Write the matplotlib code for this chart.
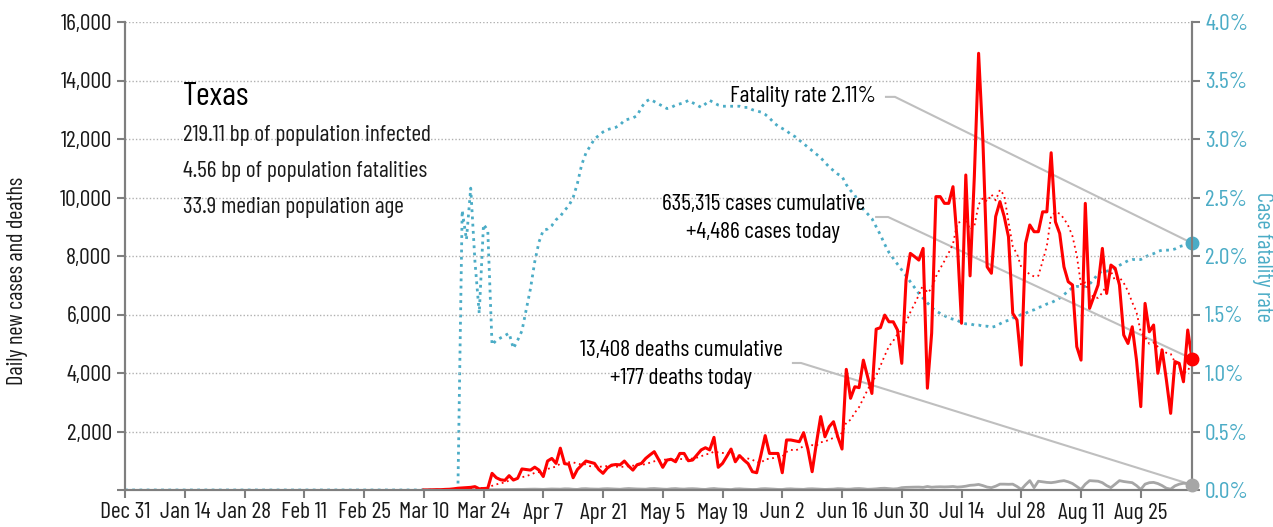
import numpy as np
import pandas as pd
import matplotlib
matplotlib.use("Agg")
import matplotlib.pyplot as plt

plt.rcParams['font.family'] = ['Barlow Condensed', 'DejaVu Sans']

# days counted from Dec 31, 2019
last_day = 250
tick_days = list(range(0, 239, 14))
tick_labels = ["Dec 31", "Jan 14", "Jan 28", "Feb 11", "Feb 25", "Mar 10",
               "Mar 24", "Apr 7", "Apr 21", "May 5", "May 19", "Jun 2",
               "Jun 16", "Jun 30", "Jul 14", "Jul 28", "Aug 11", "Aug 25"]

# daily new cases, Mar 10 .. Sep 6
cases = [0, 0, 5, 10, 10, 20, 25, 40, 60, 70,
         80, 90, 115, 40, 50, 60, 570, 420, 350, 330,
         490, 340, 400, 720, 700, 680, 780, 680, 460, 990,
         1080, 910, 1430, 900, 880, 420, 700, 850, 990, 950,
         910, 700, 570, 750, 850, 870, 860, 990, 820, 680,
         865, 910, 1080, 1200, 1310, 1050, 775, 1025, 1050, 965,
         1250, 1250, 1000, 1025, 1200, 1370, 1445, 1370, 1800, 775,
         910, 1150, 1400, 965, 1175, 1025, 900, 625, 590, 1200,
         1860, 1250, 1250, 1250, 590, 1710, 1710, 1680, 1650, 1960,
         1400, 625, 1600, 2510, 1820, 2165, 2335, 1820, 1400, 4125,
         3135, 3530, 3500, 4440, 3875, 3300, 5500, 5550, 5980, 5750,
         5750, 5470, 4330, 7180, 8090, 7980, 7860, 8260, 3480, 5360,
         10030, 10030, 9800, 9800, 10370, 8500, 5700, 10770, 7320, 10710,
         14930, 11970, 7630, 7410, 9350, 9860, 9350, 8660, 6040, 5810,
         4270, 8430, 9060, 8830, 8830, 9510, 9510, 11530, 9170, 8770,
         7630, 7120, 7010, 4900, 4440, 9800, 6210, 6610, 7010, 8260,
         6720, 7690, 7580, 7010, 5300, 5010, 5580, 4440, 2850, 6380,
         5410, 5640, 3990, 4790, 3760, 2620, 4390, 4330, 3700, 5470,
         4486]

# daily deaths, Mar 10 .. Sep 6
deaths = [0, 0, 0, 0, 0, 1, 1, 2, 2, 3,
          3, 4, 5, 6, 8, 8, 10, 12, 14, 15,
          18, 20, 22, 20, 25, 28, 30, 25, 22, 30,
          35, 30, 28, 40, 38, 25, 20, 42, 45, 35,
          30, 28, 40, 45, 38, 32, 25, 40, 50, 42,
          35, 30, 28, 45, 50, 40, 30, 25, 42, 48,
          35, 30, 42, 45, 38, 25, 20, 40, 50, 35,
          30, 22, 15, 35, 40, 30, 25, 18, 20, 40,
          45, 38, 30, 20, 18, 35, 40, 30, 25, 22,
          38, 42, 35, 28, 20, 25, 30, 45, 40, 28,
          30, 45, 50, 40, 25, 30, 40, 55, 60, 48,
          35, 45, 80, 90, 95, 98, 100, 90, 120, 95,
          105, 110, 105, 110, 120, 100, 110, 130, 160, 170,
          190, 150, 100, 80, 130, 200, 200, 195, 200, 120,
          20, 180, 320, 80, 300, 280, 260, 250, 270, 300,
          320, 280, 220, 120, 20, 200, 320, 310, 300, 250,
          150, 80, 200, 320, 290, 270, 250, 150, 20, 200,
          250, 260, 220, 150, 60, 30, 140, 200, 230, 220,
          177]

# case fatality rate (%), Mar 18 .. Sep 6
rate = [0.0, 2.39, 2.14, 2.58, 1.95, 1.51, 2.27, 2.22, 1.24, 1.28,
        1.30, 1.32, 1.34, 1.21, 1.28, 1.36, 1.54, 1.72, 1.95, 2.12,
        2.22, 2.23, 2.26, 2.31, 2.34, 2.39, 2.43, 2.50, 2.62, 2.78,
        2.88, 2.94, 3.00, 3.03, 3.06, 3.08, 3.09, 3.10, 3.12, 3.16,
        3.17, 3.18, 3.20, 3.27, 3.32, 3.34, 3.32, 3.30, 3.28, 3.26,
        3.27, 3.29, 3.30, 3.31, 3.33, 3.31, 3.29, 3.27, 3.30, 3.33,
        3.31, 3.29, 3.28, 3.28, 3.28, 3.28, 3.28, 3.27, 3.27, 3.25,
        3.24, 3.23, 3.21, 3.18, 3.14, 3.11, 3.09, 3.07, 3.04, 3.02,
        2.99, 2.96, 2.93, 2.90, 2.87, 2.84, 2.80, 2.76, 2.73, 2.70,
        2.68, 2.61, 2.56, 2.52, 2.45, 2.40, 2.36, 2.32, 2.25, 2.18,
        2.10, 2.03, 1.98, 1.93, 1.88, 1.83, 1.78, 1.73, 1.68, 1.64,
        1.60, 1.56, 1.53, 1.51, 1.49, 1.47, 1.46, 1.45, 1.43, 1.42,
        1.42, 1.41, 1.41, 1.40, 1.40, 1.39, 1.40, 1.42, 1.44, 1.45,
        1.47, 1.48, 1.50, 1.51, 1.53, 1.54, 1.56, 1.57, 1.59, 1.60,
        1.62, 1.64, 1.67, 1.70, 1.73, 1.74, 1.74, 1.74, 1.76, 1.80,
        1.85, 1.87, 1.87, 1.88, 1.90, 1.92, 1.94, 1.96, 1.97, 1.97,
        1.97, 1.99, 2.01, 2.02, 2.04, 2.05, 2.05, 2.05, 2.06, 2.08,
        2.09, 2.10, 2.11]

state = "Texas"
info_lines = ["219.11 bp of population infected",
              "4.56 bp of population fatalities",
              "33.9 median population age"]
total_cases = 635315
total_deaths = 13408

RED = "#ff0000"
TEAL = "#4bacc6"
GREY = "#a6a6a6"
LINEG = "#bfbfbf"
SPINE = "#7f7f7f"
TXT = "#1a1a1a"
FS = 17

days_all = np.arange(last_day + 1)
cases_all = np.zeros(last_day + 1)
cases_all[-len(cases):] = cases
trend = pd.Series(cases_all).rolling(7).mean()
rate_all = np.zeros(last_day + 1)
rate_all[-len(rate):] = rate
d_cases = days_all[-len(cases):]
d_deaths = days_all[-len(deaths):]

fig = plt.figure(figsize=(12.73, 5.27), dpi=100)
ax = fig.add_axes([125 / 1273, 37 / 527, 1067 / 1273, 468 / 527])
ax2 = ax.twinx()
ax.set_zorder(ax2.get_zorder() + 1)
ax.patch.set_visible(False)

# fatality rate on the right axis
ax2.plot(days_all, rate_all, color=TEAL, lw=2, linestyle=(0, (1, 1.6)))
ax2.plot(last_day, rate[-1], 'o', color=TEAL, ms=9, clip_on=False, zorder=5)
ax2.set_ylim(0, 4)
ax2.set_yticks(np.arange(0, 4.01, 0.5))
ax2.set_yticklabels([f"{v:.1f}%" for v in np.arange(0, 4.01, 0.5)])

ax.plot(d_deaths, deaths, color=GREY, lw=2)
ax.plot(days_all, trend, color=RED, lw=1.3, linestyle=(0, (1, 2)))
ax.plot(d_cases, cases, color=RED, lw=2.2)
ax.plot(last_day, cases[-1], 'o', color=RED, ms=9, clip_on=False, zorder=6)
ax.plot(last_day, deaths[-1], 'o', color=GREY, ms=9, clip_on=False, zorder=6)

ax.set_xlim(0, last_day)
ax.set_ylim(0, 16000)
ax.set_yticks(range(0, 16001, 2000))
ax.set_yticklabels([f"{v:,}" if v else "" for v in range(0, 16001, 2000)])
ax.set_xticks(tick_days)
ax.set_xticklabels(tick_labels)
for v in range(2000, 16001, 2000):
    ax.axhline(v, color="#b0b0b0", lw=1, linestyle=(0, (1, 1.5)), zorder=0)

for a in (ax, ax2):
    a.spines['top'].set_visible(False)
    for s in ('left', 'right', 'bottom'):
        a.spines[s].set_color(SPINE)
        a.spines[s].set_linewidth(1.5)
ax.tick_params(axis='both', colors=SPINE, labelcolor=TXT, labelsize=FS,
               length=6, width=1.5)
ax.tick_params(axis='x', pad=3)
ax2.tick_params(axis='y', colors=SPINE, labelcolor=TEAL, labelsize=FS,
                length=6, width=1.5)

fig.text(18 / 1273, 1 - 281 / 527, "Daily new cases and deaths", rotation=90,
         ha='center', va='center', fontsize=FS - 1, color=TXT)
fig.text(1263 / 1273, 1 - 257 / 527, "Case fatality rate", rotation=-90,
         ha='center', va='center', fontsize=FS - 1, color=TEAL)

# state info block
ax.text(0.0544, 0.84, state, transform=ax.transAxes, fontsize=24,
        va='center', ha='left', color="#000000")
for i, line in enumerate(info_lines):
    ax.text(0.0544, 0.7585 - i * 0.0769, line, transform=ax.transAxes,
            fontsize=FS, va='center', ha='left', color=TXT)

# callouts
ax2.text(176, 3.36, f"Fatality rate {rate[-1]:.2f}%", fontsize=FS,
         ha='right', va='center', color="#000000")
ax2.plot([178.3, 180.4, last_day], [3.36, 3.36, rate[-1]], color=LINEG, lw=1.5,
         zorder=1)

ax.text(149.6, 9744, f"{total_cases:,} cases cumulative", fontsize=FS,
        ha='center', va='center', color="#000000")
ax.text(149.6, 8820, f"+{cases[-1]:,} cases today", fontsize=FS,
        ha='center', va='center', color="#000000")
ax.plot([176, 178.8, last_day], [9333, 9333, cases[-1]], color=LINEG, lw=1.5,
        zorder=1)

ax.text(130.4, 4762, f"{total_deaths:,} deaths cumulative", fontsize=FS,
        ha='center', va='center', color="#000000")
ax.text(130.4, 3818, f"+{deaths[-1]:,} deaths today", fontsize=FS,
        ha='center', va='center', color="#000000")
ax.plot([156.5, 158.4, last_day], [4342, 4342, deaths[-1]], color=LINEG, lw=1.5,
        zorder=1)

fig.savefig("out.png", dpi=100)
